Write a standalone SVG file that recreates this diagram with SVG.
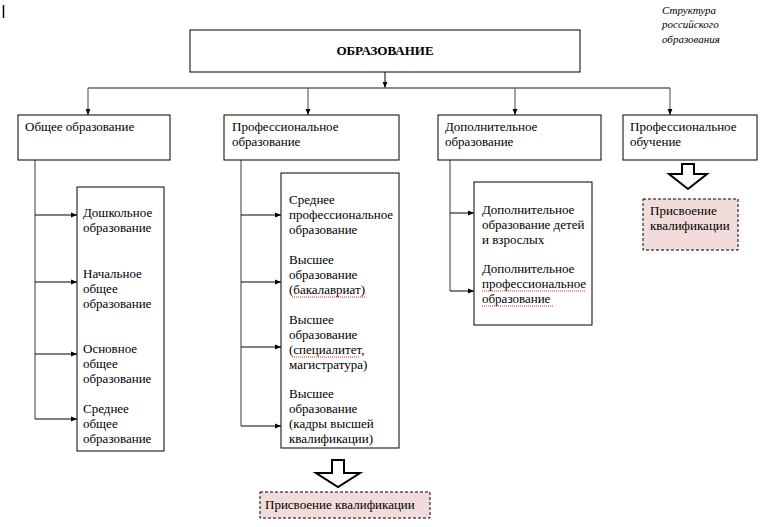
<svg xmlns="http://www.w3.org/2000/svg" width="770" height="527" viewBox="0 0 770 527">
<style>
  .box{fill:#fff;stroke:#000;stroke-width:1}
  .pink{fill:#f2dcdb;stroke:#000;stroke-width:1;stroke-dasharray:3,2}
  .t{font-family:"Liberation Serif","Times New Roman",serif;font-size:13px;fill:#000}
  .b{font-weight:bold;text-anchor:middle}
  .i{font-style:italic;font-size:11px}
  .spine{stroke:#666;stroke-width:1.3;fill:none}
  .arr{stroke:#000;stroke-width:1;fill:none;marker-end:url(#ah)}
  .darr{stroke:#666;stroke-width:1.2;fill:none;marker-end:url(#ah)}
  .big{fill:#fff;stroke:#000;stroke-width:2}
  .sq{stroke:#e03030;stroke-width:1;stroke-dasharray:1,1;fill:none}
</style>
<defs>
  <marker id="ah" viewBox="0 0 10 10" refX="10" refY="5" markerWidth="6" markerHeight="6" markerUnits="userSpaceOnUse" orient="auto">
    <path d="M0,1 L10,5 L0,9 z" fill="#000"/>
  </marker>
</defs>
<rect width="770" height="527" fill="#fff"/>
<line x1="3.5" y1="5" x2="3.5" y2="18" stroke="#000" stroke-width="1.5"/>

<g id="caption">
  <text class="t i" x="662" y="14">Структура</text>
  <text class="t i" x="662" y="28">российского</text>
  <text class="t i" x="662" y="43">образования</text>
</g>

<g id="connectors">
  <line class="arr" x1="385" y1="72" x2="385" y2="88"/>
  <line class="spine" x1="88" y1="88" x2="670" y2="88"/>
  <line class="darr" x1="88" y1="88" x2="88" y2="115"/>
  <line class="darr" x1="308" y1="88" x2="308" y2="115"/>
  <line class="darr" x1="515" y1="88" x2="515" y2="115"/>
  <line class="darr" x1="670" y1="88" x2="670" y2="115"/>
  <!-- general -->
  <line class="spine" x1="35" y1="160" x2="35" y2="419"/>
  <line class="arr" x1="35" y1="215" x2="77" y2="215"/>
  <line class="arr" x1="35" y1="282" x2="77" y2="282"/>
  <line class="arr" x1="35" y1="354" x2="77" y2="354"/>
  <line class="arr" x1="35" y1="419" x2="77" y2="419"/>
  <!-- professional -->
  <line class="spine" x1="241" y1="160" x2="241" y2="426"/>
  <line class="arr" x1="241" y1="215" x2="281" y2="215"/>
  <line class="arr" x1="241" y1="282" x2="281" y2="282"/>
  <line class="arr" x1="241" y1="347" x2="281" y2="347"/>
  <line class="arr" x1="241" y1="426" x2="281" y2="426"/>
  <!-- additional -->
  <line class="spine" x1="450" y1="160" x2="450" y2="291"/>
  <line class="arr" x1="450" y1="213" x2="474" y2="213"/>
  <line class="arr" x1="450" y1="291" x2="474" y2="291"/>
  <!-- block arrows -->
  <path class="big" d="M332,460 H344 V473 H360 L338,487 L316,473 H332 Z"/>
  <path class="big" d="M682,164 H694 V174 H707 L688,189 L669,174 H682 Z"/>
</g>

<g id="n-root">
  <rect class="box" x="190" y="30" width="390" height="42"/>
  <text class="t b" x="385" y="55">ОБРАЗОВАНИЕ</text>
</g>

<g id="n-general">
  <rect class="box" x="18" y="115" width="152" height="45"/>
  <text class="t" x="25" y="131">Общее образование</text>
</g>
<g id="n-prof">
  <rect class="box" x="224" y="115" width="175" height="45"/>
  <text class="t" x="232" y="131">Профессиональное</text>
  <text class="t" x="232" y="146">образование</text>
</g>
<g id="n-add">
  <rect class="box" x="438" y="115" width="163" height="45"/>
  <text class="t" x="445" y="131">Дополнительное</text>
  <text class="t" x="445" y="146">образование</text>
</g>
<g id="n-training">
  <rect class="box" x="623" y="115" width="134" height="45"/>
  <text class="t" x="630" y="131">Профессиональное</text>
  <text class="t" x="630" y="146">обучение</text>
</g>

<g id="n-general-list">
  <rect class="box" x="77" y="187" width="87" height="264"/>
  <text class="t" x="83" y="217">Дошкольное</text>
  <text class="t" x="83" y="232">образование</text>
  <text class="t" x="83" y="278">Начальное</text>
  <text class="t" x="83" y="293">общее</text>
  <text class="t" x="83" y="308">образование</text>
  <text class="t" x="83" y="353">Основное</text>
  <text class="t" x="83" y="368">общее</text>
  <text class="t" x="83" y="383">образование</text>
  <text class="t" x="83" y="413">Среднее</text>
  <text class="t" x="83" y="428">общее</text>
  <text class="t" x="83" y="443">образование</text>
</g>

<g id="n-prof-list">
  <rect class="box" x="281" y="173" width="118" height="275"/>
  <text class="t" x="289" y="204">Среднее</text>
  <text class="t" x="289" y="219">профессиональное</text>
  <text class="t" x="289" y="234">образование</text>
  <text class="t" x="289" y="264">Высшее</text>
  <text class="t" x="289" y="279">образование</text>
  <text class="t" x="289" y="294">(бакалавриат)</text>
  <line class="sq" x1="292" y1="297" x2="366" y2="297"/>
  <text class="t" x="289" y="324">Высшее</text>
  <text class="t" x="289" y="339">образование</text>
  <text class="t" x="289" y="354">(специалитет,</text>
  <line class="sq" x1="292" y1="357" x2="360" y2="357"/>
  <text class="t" x="289" y="369">магистратура)</text>
  <text class="t" x="289" y="398">Высшее</text>
  <text class="t" x="289" y="413">образование</text>
  <text class="t" x="289" y="428">(кадры высшей</text>
  <text class="t" x="289" y="443">квалификации)</text>
</g>

<g id="n-add-list">
  <rect class="box" x="474" y="182" width="118" height="143"/>
  <text class="t" x="482" y="214">Дополнительное</text>
  <text class="t" x="482" y="229">образование детей</text>
  <text class="t" x="482" y="244">и взрослых</text>
  <text class="t" x="482" y="273">Дополнительное</text>
  <text class="t" x="482" y="288">профессиональное</text>
  <line class="sq" x1="482" y1="291" x2="586" y2="291"/>
  <text class="t" x="482" y="303">образование</text>
  <line class="sq" x1="482" y1="306" x2="553" y2="306"/>
</g>

<g id="n-qual-prof">
  <rect class="pink" x="260" y="492" width="170" height="26"/>
  <text class="t" x="265" y="509">Присвоение квалификации</text>
</g>
<g id="n-qual-training">
  <rect class="pink" x="643" y="199" width="95" height="51"/>
  <text class="t" x="650" y="215">Присвоение</text>
  <text class="t" x="650" y="230">квалификации</text>
</g>
</svg>
